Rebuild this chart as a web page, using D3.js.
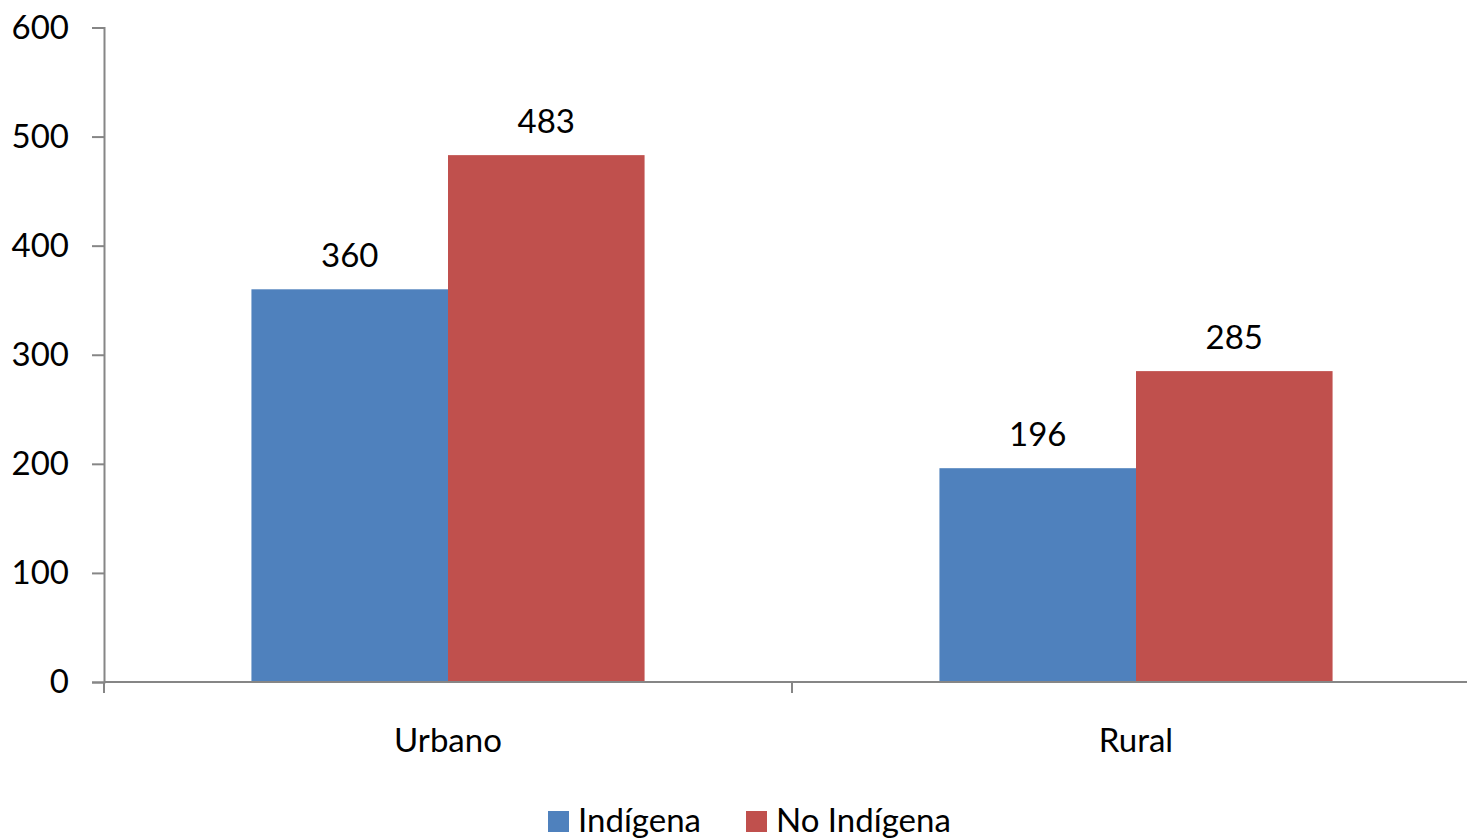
<!DOCTYPE html>
<html><head><meta charset="utf-8">
<script src="https://cdn.jsdelivr.net/npm/d3@7"></script>
<style>body{margin:0;background:#fff;}svg{display:block;}</style>
</head><body>
<script>
const categories = ["Urbano", "Rural"];
const seriesNames = ["Indígena", "No Indígena"];
const indigena = [360, 196];
const noIndigena = [483, 285];
const yTicks = [0, 100, 200, 300, 400, 500, 600];
const colors = ["#4F81BD", "#C0504D"];

const W = 1467, H = 839;
const font = "Lato, 'Open Sans', sans-serif";
const fs = 33;
const svg = d3.select("body").append("svg").attr("width", W).attr("height", H);

const x0 = d3.scaleBand().domain(categories).range([104, 1480]).padding(0);
const x1 = d3.scaleBand().domain(seriesNames).range([0, x0.bandwidth()]).paddingInner(0).paddingOuter(0.75);
const y = d3.scaleLinear().domain([0, 600]).range([682, 27.5]);

const data = categories.map((c, i) => ({cat: c, vals: [indigena[i], noIndigena[i]]}));

// bars
const g = svg.append("g");
data.forEach(d => {
  d.vals.forEach((v, j) => {
    g.append("rect")
      .attr("x", x0(d.cat) + x1(seriesNames[j]))
      .attr("y", y(v))
      .attr("width", x1.bandwidth())
      .attr("height", y(0) - y(v))
      .attr("fill", colors[j]);
    g.append("text")
      .attr("x", x0(d.cat) + x1(seriesNames[j]) + x1.bandwidth() / 2)
      .attr("y", y(v) - 22)
      .attr("text-anchor", "middle")
      .attr("font-family", font).attr("font-size", fs).attr("fill", "#000")
      .text(v);
  });
});

// y axis
const yAxis = svg.append("g").attr("transform", "translate(104,0)")
  .call(d3.axisLeft(y).tickValues(yTicks).tickSize(12).tickPadding(23));
yAxis.select(".domain").attr("stroke", "#868686").attr("stroke-width", 2);
yAxis.selectAll(".tick line").attr("stroke", "#868686").attr("stroke-width", 2);
yAxis.selectAll(".tick text").attr("font-family", font).attr("font-size", fs).attr("fill", "#000");

// x axis
const xAxis = svg.append("g").attr("transform", "translate(0,682)");
xAxis.append("line").attr("x1", 104).attr("x2", 1480).attr("stroke", "#868686").attr("stroke-width", 2);
const xTickPos = [104, ...categories.map(c => x0(c) + x0.bandwidth())];
xTickPos.forEach(p => {
  xAxis.append("line").attr("x1", p).attr("x2", p).attr("y1", 0).attr("y2", 11)
    .attr("stroke", "#868686").attr("stroke-width", 2);
});
categories.forEach(c => {
  xAxis.append("text").attr("x", x0(c) + x0.bandwidth() / 2).attr("y", 70)
    .attr("text-anchor", "middle").attr("font-family", font).attr("font-size", fs).attr("fill", "#000")
    .text(c);
});

// legend
const legend = svg.append("g");
const legX = [548, 746];
seriesNames.forEach((s, j) => {
  legend.append("rect").attr("x", legX[j]).attr("y", 811).attr("width", 21).attr("height", 21).attr("fill", colors[j]);
  legend.append("text").attr("x", legX[j] + 30).attr("y", 832)
    .attr("font-family", font).attr("font-size", fs).attr("fill", "#000").text(s);
});
</script>
</body></html>
